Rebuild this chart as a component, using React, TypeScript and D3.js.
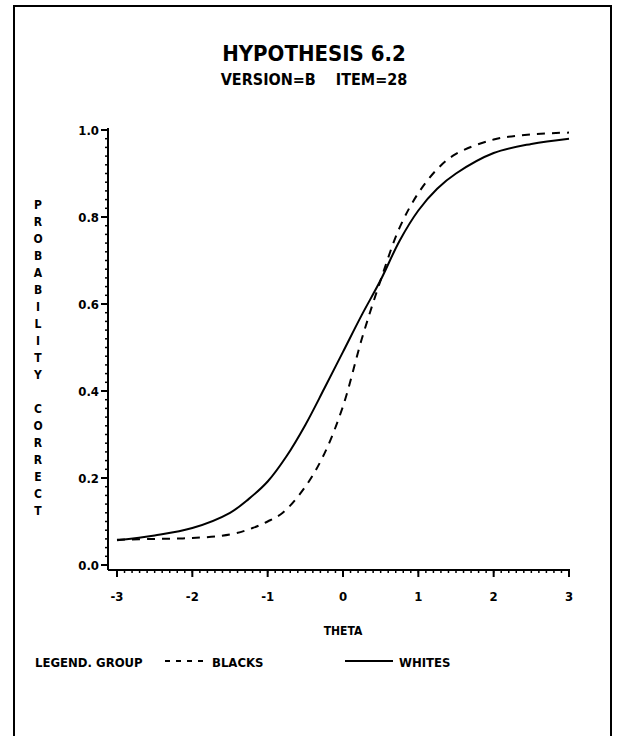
import React from "react";
import * as d3 from "d3";

const thetaBlacks = [-3, -2.5, -2, -1.5, -1.2, -1, -0.8, -0.5, -0.25, 0, 0.25, 0.5, 0.75, 1, 1.25, 1.5, 2, 2.5, 3];
const probBlacks = [0.058, 0.06, 0.062, 0.07, 0.085, 0.1, 0.12, 0.18, 0.255, 0.365, 0.52, 0.655, 0.775, 0.855, 0.91, 0.945, 0.978, 0.99, 0.994];
const thetaWhites = [-3, -2.5, -2, -1.5, -1.25, -1, -0.75, -0.5, -0.25, 0, 0.25, 0.5, 0.75, 1, 1.25, 1.5, 2, 2.5, 3];
const probWhites = [0.057, 0.068, 0.085, 0.12, 0.152, 0.192, 0.25, 0.322, 0.405, 0.49, 0.575, 0.655, 0.745, 0.815, 0.865, 0.9, 0.947, 0.968, 0.98];
const xTicks = [-3, -2, -1, 0, 1, 2, 3];
const xTickLabels = ["-3", "-2", "-1", "0", "1", "2", "3"];
const yTicks = [0, 0.2, 0.4, 0.6, 0.8, 1.0];
const yTickLabels = ["0.0", "0.2", "0.4", "0.6", "0.8", "1.0"];
const yLabel = "PROBABILITY CORRECT";

const FONT = "'DejaVu Sans Condensed', 'DejaVu Sans', sans-serif";

export default function App() {
  const x = d3.scaleLinear().domain([-3, 3]).range([117, 569]);
  const y = d3.scaleLinear().domain([0, 1]).range([565, 130]);
  const axisX = 108;
  const axisY = 570;

  const line = d3
    .line<[number, number]>()
    .x((d) => x(d[0]))
    .y((d) => y(d[1]))
    .curve(d3.curveCatmullRom.alpha(0.5));

  const blacks = thetaBlacks.map((t, i) => [t, probBlacks[i]] as [number, number]);
  const whites = thetaWhites.map((t, i) => [t, probWhites[i]] as [number, number]);

  const yMinor = d3.range(0, 1.0001, 0.02);
  const xMinor = d3.range(-3, 3.0001, 0.1);

  return (
    <svg
      width={625}
      height={736}
      style={{ position: "absolute", left: 0, top: 0, background: "#fff" }}
      fontFamily={FONT}
      fontWeight="bold"
    >
      <rect x={0} y={0} width={625} height={736} fill="#fff" />
      {/* frame */}
      <path d="M14,740 L14,6 L611,6 L611,740" fill="none" stroke="#000" strokeWidth={2} />

      {/* titles */}
      <text x={314} y={61} textAnchor="middle" fontSize={22}>
        HYPOTHESIS 6.2
      </text>
      <text x={314} y={85} textAnchor="middle" fontSize={16} style={{ whiteSpace: "pre" }}>
        {"VERSION=B    ITEM=28"}
      </text>

      {/* y axis */}
      <line x1={axisX} y1={y(1) - 2} x2={axisX} y2={axisY} stroke="#000" strokeWidth={2} />
      {yMinor.map((v, i) => (
        <line key={"ym" + i} x1={axisX - 3} x2={axisX} y1={y(v)} y2={y(v)} stroke="#000" strokeWidth={1.5} />
      ))}
      {yTicks.map((v, i) => (
        <g key={"yt" + i}>
          <line x1={axisX - 7} x2={axisX} y1={y(v)} y2={y(v)} stroke="#000" strokeWidth={2} />
          <text x={axisX - 9} y={y(v) + 5} textAnchor="end" fontSize={13}>
            {yTickLabels[i]}
          </text>
        </g>
      ))}

      {/* x axis */}
      <line x1={axisX} y1={axisY} x2={x(3) + 1} y2={axisY} stroke="#000" strokeWidth={2} />
      {xMinor.map((v, i) => (
        <line key={"xm" + i} x1={x(v)} x2={x(v)} y1={axisY} y2={axisY + 3} stroke="#000" strokeWidth={1.5} />
      ))}
      {xTicks.map((v, i) => (
        <g key={"xt" + i}>
          <line x1={x(v)} x2={x(v)} y1={axisY} y2={axisY + 7} stroke="#000" strokeWidth={2} />
          <text x={x(v)} y={601} textAnchor="middle" fontSize={13}>
            {xTickLabels[i]}
          </text>
        </g>
      ))}
      <text x={x(0)} y={635} textAnchor="middle" fontSize={12}>
        THETA
      </text>

      {/* y label stacked */}
      {yLabel.split("").map((c, i) => (
        <text key={"yl" + i} x={38} y={209 + i * 17} textAnchor="middle" fontSize={12}>
          {c}
        </text>
      ))}

      {/* curves */}
      <path d={line(blacks) || ""} fill="none" stroke="#000" strokeWidth={2} strokeDasharray="8,7" />
      <path d={line(whites) || ""} fill="none" stroke="#000" strokeWidth={2} />

      {/* legend */}
      <text x={35} y={667} fontSize={13}>
        LEGEND. GROUP
      </text>
      <line x1={165} x2={205} y1={661} y2={661} stroke="#000" strokeWidth={2} strokeDasharray="5,6" />
      <text x={212} y={667} fontSize={13}>
        BLACKS
      </text>
      <line x1={345} x2={393} y1={661} y2={661} stroke="#000" strokeWidth={2} />
      <text x={399} y={667} fontSize={13}>
        WHITES
      </text>
    </svg>
  );
}
